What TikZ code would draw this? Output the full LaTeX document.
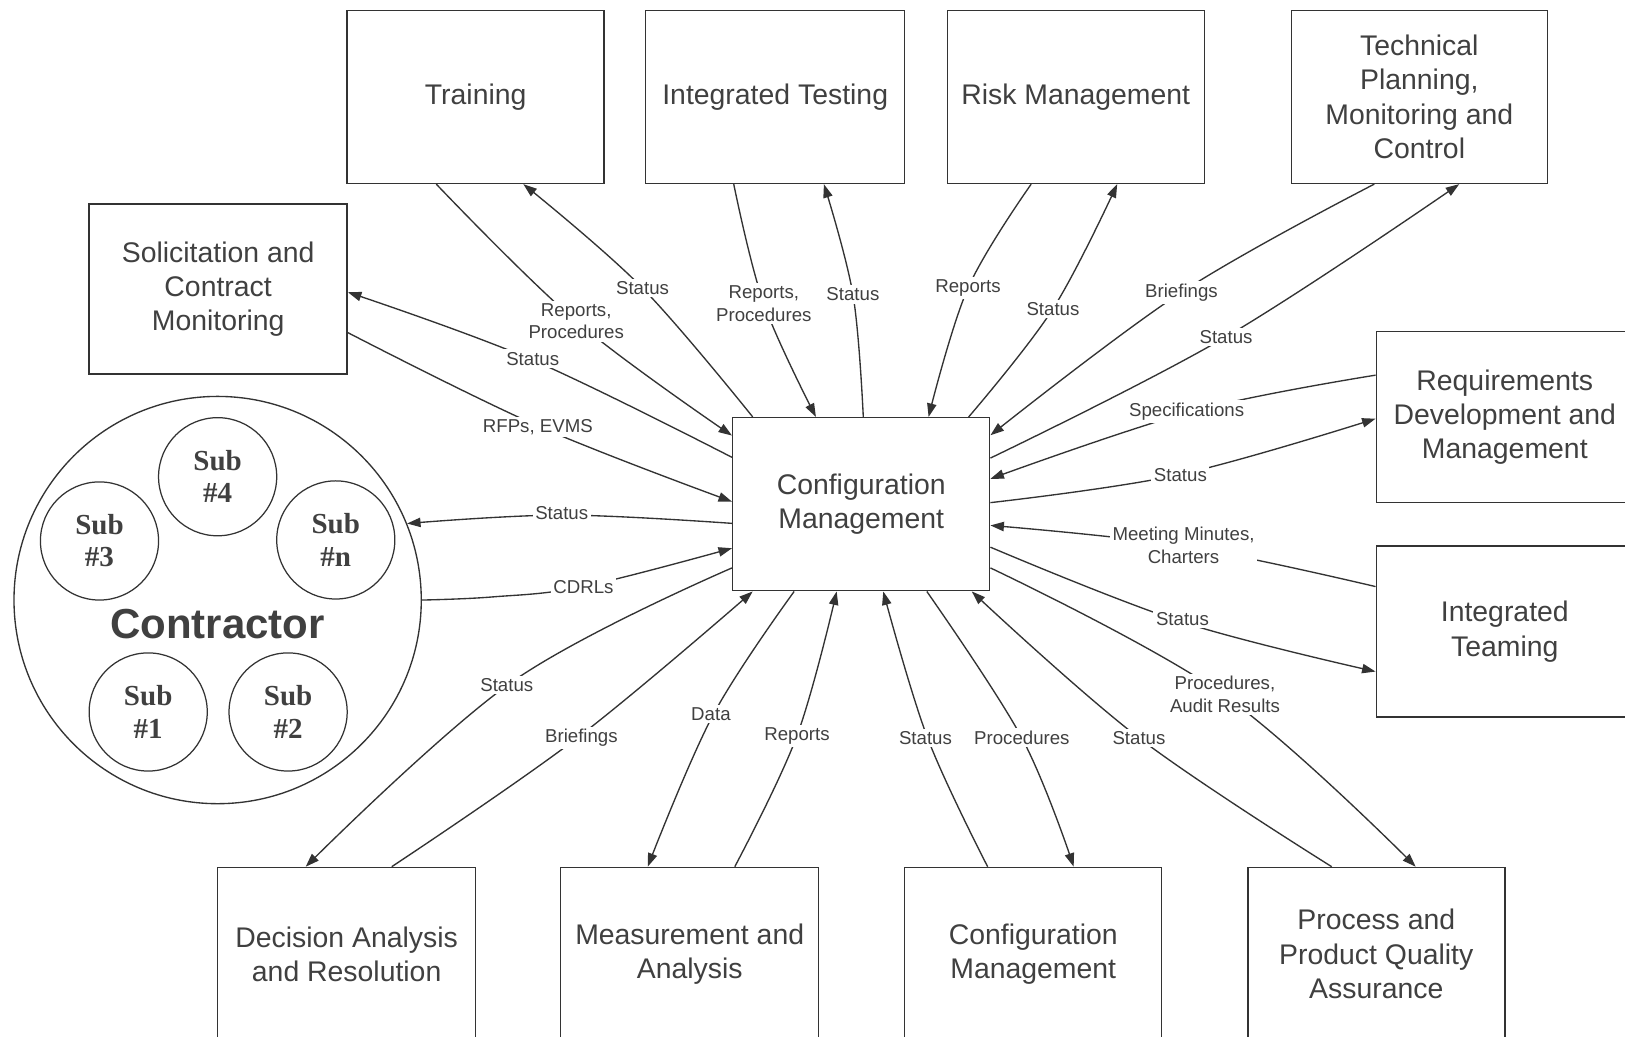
\documentclass[tikz,border=0pt]{standalone}
\usepackage{fontspec}
\setmainfont{Liberation Sans}
\newfontfamily\subfont{Liberation Serif}
\usetikzlibrary{calc,arrows.meta}
\definecolor{ink}{HTML}{404040}
\definecolor{edge}{HTML}{333333}
\begin{document}
\begin{tikzpicture}[x=1pt,y=-1pt,
  box/.style={draw=edge, line width=1.4pt, fill=white, minimum height=167pt,
    inner sep=0pt, align=center, text=ink,
    font=\fontsize{27.4pt}{33pt}\selectfont},
  lbl/.style={fill=white, inner sep=2.5pt, align=center, text=ink,
    font=\fontsize{18pt}{22pt}\selectfont},
  conn/.style={draw=edge, line width=1.3pt, -{Triangle[length=13pt,width=9pt]}},
  subc/.style={circle, draw=edge, line width=1.2pt, minimum size=114pt,
    inner sep=0pt, align=center, text=ink,
    font=\subfont\bfseries\fontsize{28pt}{31pt}\selectfont},
  sm/.style={smooth, tension=0.6},
]
% canvas
\path[use as bounding box] (0,0) rectangle (1568,1000);
\fill[white] (0,0) rectangle (1568,1000);
\clip (0,0) rectangle (1568,1000);

% process boxes
\node[box, minimum width=248pt] (train) at (459,93.5) {Training};
\node[box, minimum width=250pt] (itest) at (748,93.5) {Integrated Testing};
\node[box, minimum width=248pt] (risk) at (1038,93.5) {Risk Management};
\node[box, minimum width=247pt] (tpmc) at (1369.5,93.5) {Technical\\Planning,\\Monitoring and\\Control};
\node[box, minimum width=249pt, minimum height=164pt] (solic) at (210.5,279) {Solicitation and\\Contract\\Monitoring};
\node[box, minimum width=248pt] (cm) at (831,486.5) {Configuration\\Management};
\node[box, minimum width=248pt, minimum height=165pt] (req) at (1452,402.5) {Requirements\\Development and\\Management};
\node[box, minimum width=248pt, minimum height=165pt] (iteam) at (1452,609.5) {Integrated\\Teaming};
\node[box, minimum width=249pt] (dar) at (334.5,920.5) {Decision Analysis\\and Resolution};
\node[box, minimum width=249pt] (meas) at (665.5,920.5) {Measurement and\\Analysis};
\node[box, minimum width=248pt] (cm2) at (997,920.5) {Configuration\\Management};
\node[box, minimum width=248pt] (ppqa) at (1328,920.5) {Process and\\Product Quality\\Assurance};

% contractor with its subcontractors
\node[circle, draw=edge, line width=1.3pt, minimum size=393pt, inner sep=0pt] (ctr) at (210,579) {};
\node[text=ink, font=\bfseries\fontsize{40.5pt}{44pt}\selectfont] (ctrname) at (210,602) {Contractor};
\node[subc] (s4) at (210,460) {Sub\\\#4};
\node[subc] (s3) at (96,522) {Sub\\\#3};
\node[subc] (sn) at (324,521) {Sub\\\#n};
\node[subc] (s1) at (143,687) {Sub\\\#1};
\node[subc] (s2) at (278,687) {Sub\\\#2};

% flows: Training
\draw[conn] plot[sm] coordinates {($(train.south)+(-38,0)$) (556,310) ($(cm.north west)+(0,18)$)};
\draw[conn] plot[sm] coordinates {($(cm.north west)+(20,0)$) (619,277) ($(train.south)+(46,0)$)};
% flows: Integrated Testing
\draw[conn] plot[sm] coordinates {($(itest.south)+(-40,0)$) (737,293) ($(cm.north west)+(81,0)$)};
\draw[conn] plot[sm] coordinates {($(cm.north)+(2,0)$) (823,284) ($(itest.south)+(47,0)$)};
% flows: Risk Management
\draw[conn] plot[sm] coordinates {($(risk.south)+(-43,0)$) (934,278) ($(cm.north)+(65,0)$)};
\draw[conn] plot[sm] coordinates {($(cm.north east)+(-21,0)$) (1016,298) ($(risk.south)+(40,0)$)};
% flows: Technical Planning
\draw[conn] plot[sm] coordinates {($(tpmc.south)+(-43.5,0)$) (1140,282) ($(cm.east)+(0,-66.5)$)};
\draw[conn] plot[sm] coordinates {($(cm.east)+(0,-44.5)$) (1183,325) ($(tpmc.south)+(38.5,0)$)};
% flows: Requirements
\draw[conn] plot[sm] coordinates {($(req.west)+(0,-40.5)$) (1150,397) ($(cm.east)+(0,-24.5)$)};
\draw[conn] plot[sm] coordinates {($(cm.east)+(0,-1.5)$) (1138,458) ($(req.west)+(0,1.5)$)};
% flows: Integrated Teaming
\draw[conn] plot[sm] coordinates {($(iteam.west)+(0,-43.5)$) (1142,527) ($(cm.east)+(0,20.5)$)};
\draw[conn] plot[sm] coordinates {($(cm.east)+(0,41.5)$) (1140,600) ($(iteam.west)+(0,38.5)$)};
% flows: PPQA
\draw[conn] plot[sm] coordinates {($(cm.east)+(0,61.5)$) (1180,670) ($(ppqa.north)+(38,0)$)};
\draw[conn] plot[sm] coordinates {($(ppqa.north)+(-43,0)$) (1099,712) ($(cm.south east)+(-18,0)$)};
% flows: Configuration Management (lower)
\draw[conn] plot[sm] coordinates {($(cm.south west)+(188,0)$) (986,712) ($(cm2.north)+(39,0)$)};
\draw[conn] plot[sm] coordinates {($(cm2.north)+(-44,0)$) (895,712) ($(cm.south west)+(146,0)$)};
% flows: Measurement and Analysis
\draw[conn] plot[sm] coordinates {($(meas.north)+(43.5,0)$) (769,710) ($(cm.south west)+(101,0)$)};
\draw[conn] plot[sm] coordinates {($(cm.south west)+(60,0)$) (688,690) ($(meas.north)+(-40.5,0)$)};
% flows: Decision Analysis
\draw[conn] plot[sm] coordinates {($(dar.north)+(43.5,0)$) (557,712) ($(cm.south west)+(20,0)$)};
\draw[conn] plot[sm] coordinates {($(cm.west)+(0,61.5)$) (494,658) ($(dar.north)+(-39.5,0)$)};
% flows: Contractor
\draw[conn] plot[sm] coordinates {(ctr.east) (475,576) (563,566) ($(cm.west)+(0,42.5)$)};
\draw[conn] plot[sm] coordinates {($(cm.west)+(0,18.5)$) (542,497) (ctr.22)};
% flows: Solicitation
\draw[conn] plot[sm] coordinates {($(solic.east)+(0,42)$) (519,411) ($(cm.west)+(0,-2.5)$)};
\draw[conn] plot[sm] coordinates {($(cm.north west)+(0,39)$) (513,347) ($(solic.east)+(0,3)$)};

% flow labels
\node[lbl] (l1) at (556,310) {Reports,\\Procedures};
\node[lbl] (l2) at (620,278) {Status};
\node[lbl] (l3) at (737,293) {Reports,\\Procedures};
\node[lbl] (l4) at (823,284) {Status};
\node[lbl] (l5) at (934,278) {Reports};
\node[lbl] (l6) at (1016,298) {Status};
\node[lbl] (l7) at (1140,282) {Briefings};
\node[lbl] (l8) at (1183,325) {Status};
\node[lbl] (l9) at (1145,397) {Specifications};
\node[lbl] (l10) at (1139,458) {Status};
\node[lbl] (l11) at (1142,526) {Meeting Minutes,\\Charters};
\node[lbl] (l12) at (1141,597) {Status};
\node[lbl] (l13) at (1182,670) {Procedures,\\Audit Results};
\node[lbl] (l14) at (1099,712) {Status};
\node[lbl] (l15) at (986,712) {Procedures};
\node[lbl] (l16) at (893,712) {Status};
\node[lbl] (l17) at (769,710) {Reports};
\node[lbl] (l18) at (686,689) {Data};
\node[lbl] (l19) at (561,712) {Briefings};
\node[lbl] (l20) at (489,661) {Status};
\node[lbl] (l21) at (563,566) {CDRLs};
\node[lbl] (l22) at (542,495) {Status};
\node[lbl] (l23) at (519,412) {RFPs, EVMS};
\node[lbl] (l24) at (514,346) {Status};
\end{tikzpicture}
\end{document}
